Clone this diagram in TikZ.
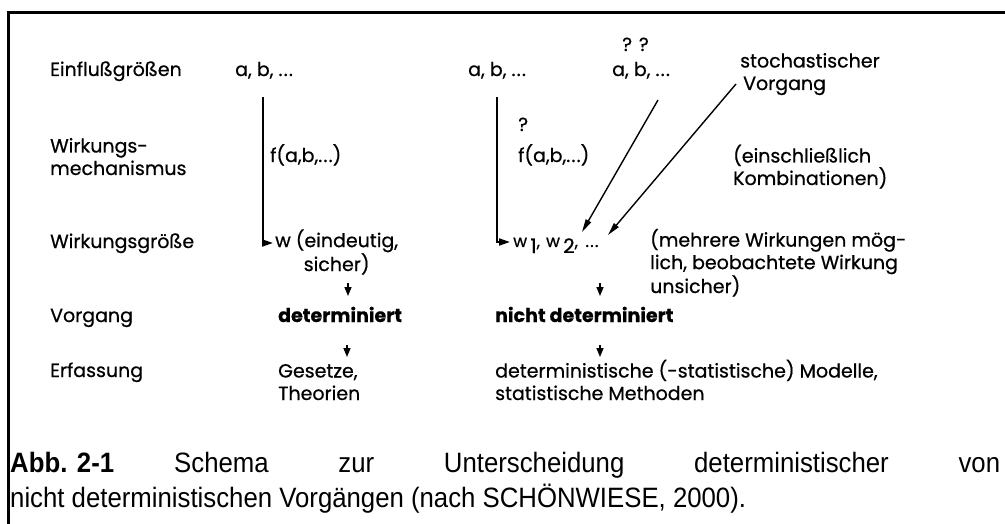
\documentclass[tikz,border=0pt]{standalone}
\usepackage{fontspec}
\setmainfont[FakeBold=0.6]{Poppins}
\newfontfamily\capfont[FakeStretch=0.92]{Liberation Sans}
\usetikzlibrary{arrows.meta}
\newcommand\dfont{\fontsize{19}{22.5}\selectfont}
\newcommand\capsize{\fontsize{28}{35}\selectfont}
\newcommand\dd{.\kern1.2pt.\kern1.2pt.}
\newcommand\lw[1]{\raisebox{6pt}{\fontsize{17}{17}\selectfont #1}}
\newcommand\dg[1]{{\fontsize{20}{20}\selectfont #1}}
\begin{document}
\begin{tikzpicture}[x=1pt,y=-1pt,
  txt/.style={anchor=base west, inner sep=0pt, font=\dfont, align=left},
  ctxt/.style={anchor=base west, inner sep=0pt, font=\dfont, align=center},
  vconn/.style={line width=2pt, -{Triangle[length=11pt,width=7pt]}},
  dconn/.style={line width=1.4pt, -{Triangle[length=13pt,width=6pt]}},
  tick/.style={line width=1.5pt, -{Triangle[length=9pt,width=7pt]}},
  frame/.style={line width=3pt}]
\fill[white] (0,0) rectangle (1005,524);
\useasboundingbox (0,0) rectangle (1005,524);
\draw[frame] (8,530) -- (8,13) -- (1010,13);

% row 1
\node[txt] (einfl) at (50,76) {Einflußgrößen};
\node[txt] (ab1) at (235,76) {a, b, \dd};
\node[txt] (ab2) at (468,76) {a, b, \dd};
\node[txt] (qq) at (622,51) {? ?};
\node[txt] (ab3) at (612,76) {a, b, \dd};
\node[txt] (stoch) at (740,90) {stochastischer\\\hspace*{3pt}Vorgang};
% row 2
\node[txt] (wmech) at (50,175) {Wirkungs-\\mechanismus};
\node[txt] (f1) at (270,162) {f(a,b,\dd)};
\node[txt] (q2) at (518,131) {?};
\node[txt] (f2) at (518,162) {f(a,b,\dd)};
\node[txt] (einschl) at (733,185) {(einschließlich\\Kombinationen)};
% row 3
\node[txt] (wgr) at (50,248) {Wirkungsgröße};
\node[ctxt] (weind) at (275,271) {w (eindeutig,\\sicher)};
\node[txt] (w12) at (513,253) {\lw{w}\,\dg{1}\lw{,}\hspace{6pt}\lw{w}\,\dg{2}\lw{,\, \dd}};
\node[txt] (mehr) at (650,293) {(mehrere Wirkungen mög-\\lich, beobachtete Wirkung\\unsicher)};
% row 4
\node[txt] (vorg) at (50,322) {Vorgang};
\node[txt,font=\dfont\bfseries] (det) at (278,322) {determiniert};
\node[txt,font=\dfont\bfseries] (ndet) at (495,322) {nicht determiniert};
% row 5
\node[txt] (erf) at (50,377) {Erfassung};
\node[txt] (ges) at (278,400) {Gesetze,\\Theorien};
\node[txt] (mod) at (495,400) {deterministische (-statistische) Modelle,\\statistische Methoden};

% connectors
\draw[vconn] ([xshift=28pt,yshift=-21pt]ab1.base west) |- ([xshift=-2pt,yshift=28pt]weind.base west);
\draw[vconn] ([xshift=29pt,yshift=-21pt]ab2.base west) |- ([xshift=-3pt,yshift=11pt]w12.base west);
\draw[dconn] ([xshift=46pt,yshift=-24pt]ab3.base west) -- ([xshift=69pt,yshift=21pt]w12.base west);
\draw[dconn] ([xshift=-4pt,yshift=6pt]stoch.base west) -- ([xshift=95pt,yshift=18pt]w12.base west);
\draw[tick] ([xshift=73pt,yshift=-12pt]weind.base west) -- ([xshift=70pt,yshift=26pt]det.base west);
\draw[tick] ([xshift=87pt,yshift=-30pt]w12.base west) -- ([xshift=105pt,yshift=26pt]ndet.base west);
\draw[tick] ([xshift=69pt,yshift=-23pt]det.base west) -- ([xshift=69pt,yshift=43pt]ges.base west);
\draw[tick] ([xshift=105pt,yshift=-23pt]ndet.base west) -- ([xshift=105pt,yshift=43pt]mod.base west);

% caption
\node[anchor=base west, inner sep=0pt, text width=990pt, align=justify, font=\capfont\capsize] (cap) at (10,472)
  {\mbox{\textbf{Abb. 2-1}}\hspace{60pt}Schema zur Unterscheidung deterministischer von\linebreak nicht deterministischen Vorgängen (nach SCHÖNWIESE, 2000).};
\end{tikzpicture}
\end{document}
